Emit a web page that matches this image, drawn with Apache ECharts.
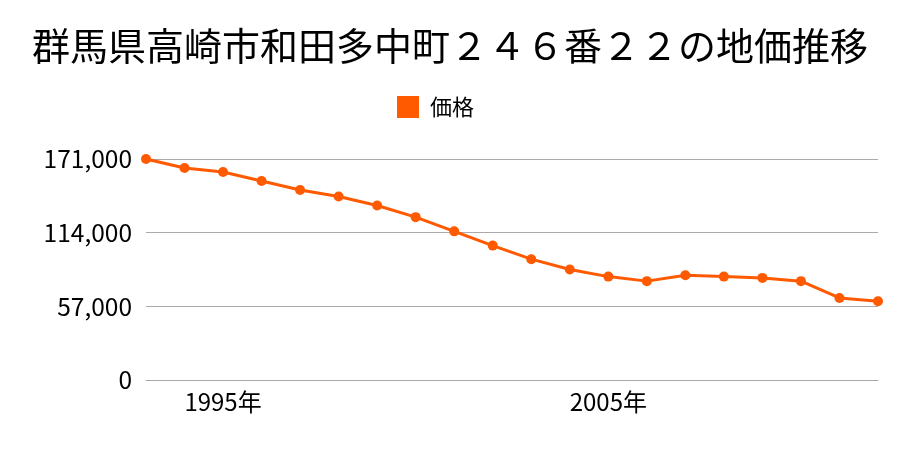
<!DOCTYPE html>
<html><head><meta charset="utf-8">
<script src="https://cdn.jsdelivr.net/npm/echarts@6/dist/echarts.min.js"></script>
<style>html,body{margin:0;padding:0;background:#fff}#c{width:900px;height:450px}</style>
</head><body><div id="c"></div>
<script>
const years = ['1993','1994','1995','1996','1997','1998','1999','2000','2001','2002','2003','2004','2005','2006','2007','2008','2009','2010','2011','2012'];
const prices = [171000,164000,161000,154000,147000,142000,135000,126000,115000,104000,93500,85500,80000,76500,81000,80000,79000,76500,63500,61000];
const shownYears = ['1995','2005'];
const yTicks = [0,57000,114000,171000];
const titleText = '群馬県高崎市和田多中町２４６番２２の地価推移';
const seriesName = '価格';

const font = '"Noto Sans CJK JP","Noto Sans",sans-serif';
const chart = echarts.init(document.getElementById('c'), null, {renderer:'canvas'});
chart.setOption({
  animation:false,
  textStyle:{fontFamily:font},
  title:{text:titleText,left:'center',top:22,textStyle:{fontSize:38,fontWeight:'normal',color:'#000',fontFamily:font}},
  legend:{data:[{name:seriesName,icon:'rect'}],top:91,left:392,itemWidth:22,itemHeight:22,itemGap:10,
    textStyle:{fontSize:22,color:'#000',fontFamily:font,padding:[0,0,0,6]}},
  grid:{left:146,right:22,top:159,bottom:70,containLabel:false},
  xAxis:{type:'category',data:years,boundaryGap:false,
    axisLine:{lineStyle:{color:'#aaa'}},axisTick:{show:false},
    axisLabel:{interval:(i,v)=>shownYears.includes(v),formatter:v=>v+'年',fontSize:24,color:'#000',margin:10,fontFamily:font}},
  yAxis:{type:'value',min:yTicks[0],max:yTicks[yTicks.length-1],interval:yTicks[1]-yTicks[0],
    axisLine:{show:false},axisTick:{show:false},
    splitLine:{lineStyle:{color:'#aaa'}},
    axisLabel:{formatter:v=>v.toLocaleString('en-US'),fontSize:24.5,color:'#000',margin:14,fontFamily:font}},
  series:[{name:seriesName,type:'line',data:prices,color:'#ff5a00',
    symbol:'circle',symbolSize:10,lineStyle:{width:3,color:'#ff5a00'},itemStyle:{color:'#ff5a00'}}]
});
</script></body></html>
